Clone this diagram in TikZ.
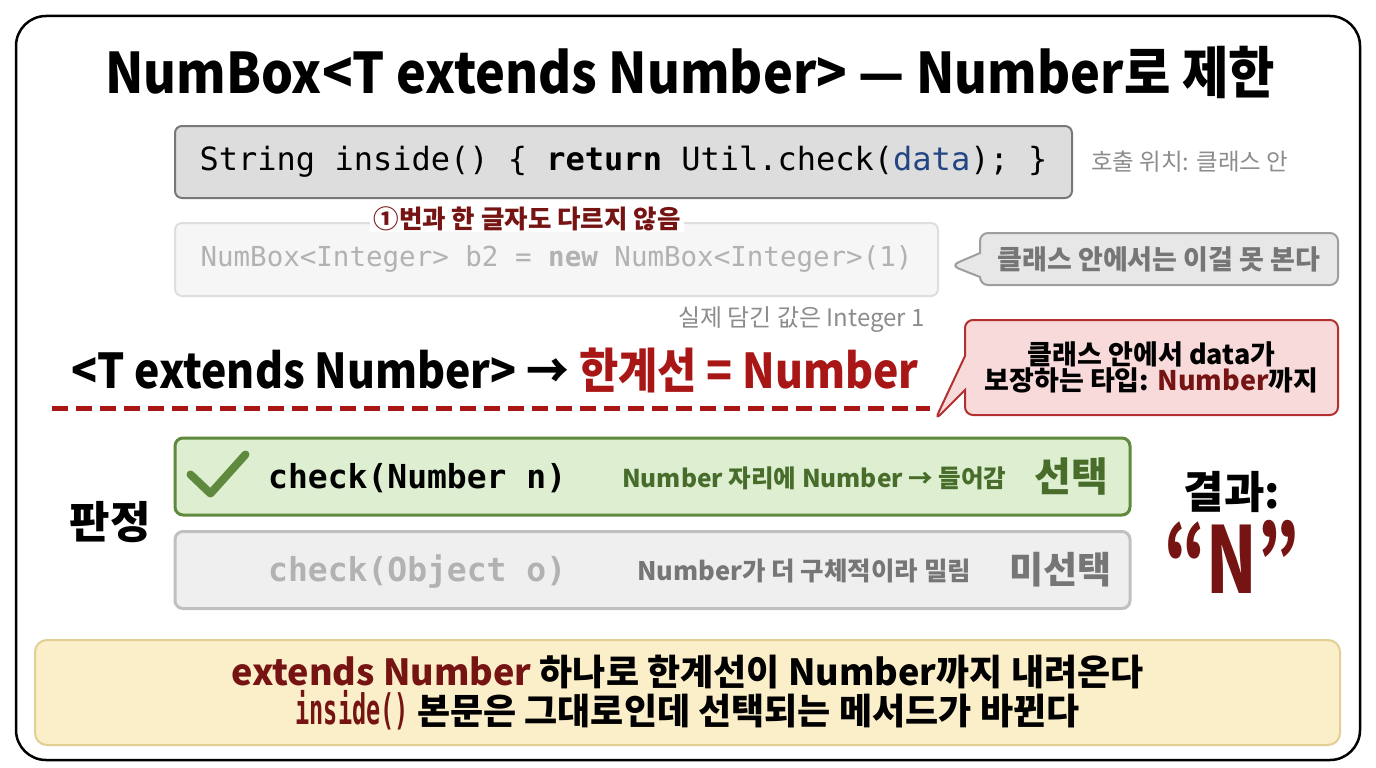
\documentclass[tikz,border=0pt]{standalone}
\usepackage{fontspec}
\setmainfont{Noto Sans CJK KR}
\setmonofont{DejaVu Sans Mono}
\usepackage{xcolor}
\usepackage{tikz}
\usetikzlibrary{shapes.callouts, positioning}
\definecolor{codefill}{RGB}{221, 221, 221}
\definecolor{codedraw}{RGB}{120, 120, 120}
\definecolor{datablue}{RGB}{35, 70, 130}
\definecolor{ghostfill}{RGB}{246, 246, 246}
\definecolor{ghostdraw}{RGB}{222, 222, 222}
\definecolor{ghosttext}{RGB}{178, 178, 178}
\definecolor{notegray}{RGB}{140, 140, 140}
\definecolor{darkred}{RGB}{118, 20, 20}
\definecolor{limitred}{RGB}{168, 22, 22}
\definecolor{redfill}{RGB}{249, 218, 218}
\definecolor{reddraw}{RGB}{178, 48, 48}
\definecolor{grayfill}{RGB}{231, 231, 231}
\definecolor{graydraw}{RGB}{158, 158, 158}
\definecolor{graytext}{RGB}{118, 118, 118}
\definecolor{okdraw}{RGB}{95, 138, 62}
\definecolor{okfill}{RGB}{221, 238, 209}
\definecolor{oktext}{RGB}{72, 108, 42}
\definecolor{nofill}{RGB}{239, 239, 239}
\definecolor{nodraw}{RGB}{192, 192, 192}
\definecolor{sumfill}{RGB}{251, 239, 202}
\definecolor{sumdraw}{RGB}{226, 207, 148}
\newcommand{\fsz}[2]{\fontsize{#1}{#2}\selectfont}
\tikzstyle{codebox} = [rectangle, rounded corners=7pt, text centered, inner sep=0pt, line width=2pt]
\tikzstyle{bubble} = [rectangle callout, rounded corners=8pt, text centered, line width=2pt, inner sep=0pt]
\tikzstyle{choice} = [rectangle, rounded corners=8pt, line width=3pt, inner sep=0pt, minimum width=955pt, minimum height=77pt]
\tikzstyle{label} = [inner sep=0pt, anchor=west]
\tikzstyle{limitline} = [limitred, line width=5pt, dash pattern=on 16pt off 8pt]

\begin{document}
\begin{tikzpicture}[x=1pt, y=-1pt]
    \useasboundingbox (0,0) rectangle (1376,768);
    \fill[white] (0,0) rectangle (1376,768);
    \draw[line width=2.5pt, rounded corners=30pt] (16,16) rectangle (1360,760);

    \node[inner sep=0pt] (title) at (690,72) {\scalebox{0.9}[1]{\fsz{56}{64}\bfseries NumBox<T extends Number> — Number로 제한}};

    \node[codebox, draw=codedraw, fill=codefill, minimum width=897pt, minimum height=72pt] (code1) at (623.5,162) {\fsz{32}{38}\ttfamily String inside() \{ \textbf{return} Util.check(\textcolor{datablue}{data}); \}};
    \node[label, right=18pt of code1, text=notegray] (where) {\fsz{23.5}{28}호출 위치: 클래스 안};

    \node[codebox, draw=ghostdraw, fill=ghostfill, minimum width=763pt, minimum height=73pt, text=ghosttext] (code2) at (556.5,259.5) {\fsz{27.5}{32}\ttfamily NumBox<Integer> b2 = \textbf{new} NumBox<Integer>(1)};
    \node[fill=white, inner xsep=4pt, inner ysep=1pt, text=darkred] (same) at (527,219) {\fsz{25.5}{29}\bfseries ①번과 한 글자도 다르지 않음};
    \node[bubble, fill=grayfill, draw=graydraw, text=graytext, minimum width=358pt, minimum height=52pt, callout pointer width=24pt, callout absolute pointer={([xshift=12pt, yshift=-6pt]code2.east)}] (hidden) at (1159,259) {\fsz{27}{31}\bfseries 클래스 안에서는 이걸 못 본다};
    \node[inner sep=0pt, anchor=east, text=notegray] (actual) at (925,320) {\fsz{24}{28}실제 담긴 값은 Integer 1};

    \node[inner sep=0pt] (bound) at (495,370) {\scalebox{0.89}[1]{\fsz{48}{56}\bfseries <T extends Number> → \textcolor{limitred}{한계선 = Number}}};
    \coordinate (lineL) at (52,408);
    \coordinate (lineR) at (930,408);
    \draw[limitline] (lineL) -- (lineR);
    \node[bubble, fill=redfill, draw=reddraw, minimum width=373pt, minimum height=95pt, callout pointer width=34pt, callout absolute pointer={([xshift=5pt, yshift=-12pt]lineR)}, align=center] (guard) at (1151.5,367.5) {\fsz{27}{36}\bfseries 클래스 안에서 data가\\ \fsz{27}{36}\bfseries 보장하는 타입: \textcolor{darkred}{Number}까지};

    \node[inner sep=0pt] (verdict) at (110,522) {\fsz{44}{48}\bfseries 판정};
    \node[choice, draw=okdraw, fill=okfill] (pick) at (652.5,476.5) {};
    \draw[okdraw, line width=8pt, line cap=round, line join=round] ([xshift=17pt, yshift=2pt]pick.west) -- ++(20,19) -- ++(35,-39);
    \node[label] (picksig) at (268,478) {\fsz{33}{38}\ttfamily\bfseries check(Number n)};
    \node[label, text=oktext] (pickwhy) at (622,478) {\fsz{24.5}{28}\bfseries Number 자리에 Number → 들어감};
    \node[label, text=oktext] (picktag) at (1034,477) {\fsz{40}{44}\bfseries 선택};

    \node[choice, draw=nodraw, fill=nofill] (skip) at (652.5,570) {};
    \node[label, text=ghosttext] (skipsig) at (268,571) {\fsz{33}{38}\ttfamily\bfseries check(Object o)};
    \node[label, text=graytext] (skipwhy) at (637,571) {\fsz{25.5}{29}\bfseries Number가 더 구체적이라 밀림};
    \node[label, text=graytext] (skiptag) at (1009,570) {\fsz{37}{41}\bfseries 미선택};

    \node[inner sep=0pt] (result) at (1232,492) {\fsz{44}{48}\bfseries 결과:};
    \node[inner sep=0pt, text=darkred] (answer) at (1232,557) {\scalebox{0.72}[1]{\fsz{92}{100}\bfseries “N”}};

    \node[rectangle, rounded corners=12pt, draw=sumdraw, fill=sumfill, line width=2pt, minimum width=1305pt, minimum height=105pt, align=center, inner sep=0pt] (summary) at (687.5,692.5) {\fsz{36}{43}\bfseries \textcolor{darkred}{extends Number} 하나로 한계선이 Number까지 내려온다\\ \fsz{36}{43}\bfseries \textcolor{darkred}{\scalebox{0.56}[1]{\fsz{42}{43}\ttfamily\bfseries inside()}} 본문은 그대로인데 선택되는 메서드가 바뀐다};
\end{tikzpicture}
\end{document}
